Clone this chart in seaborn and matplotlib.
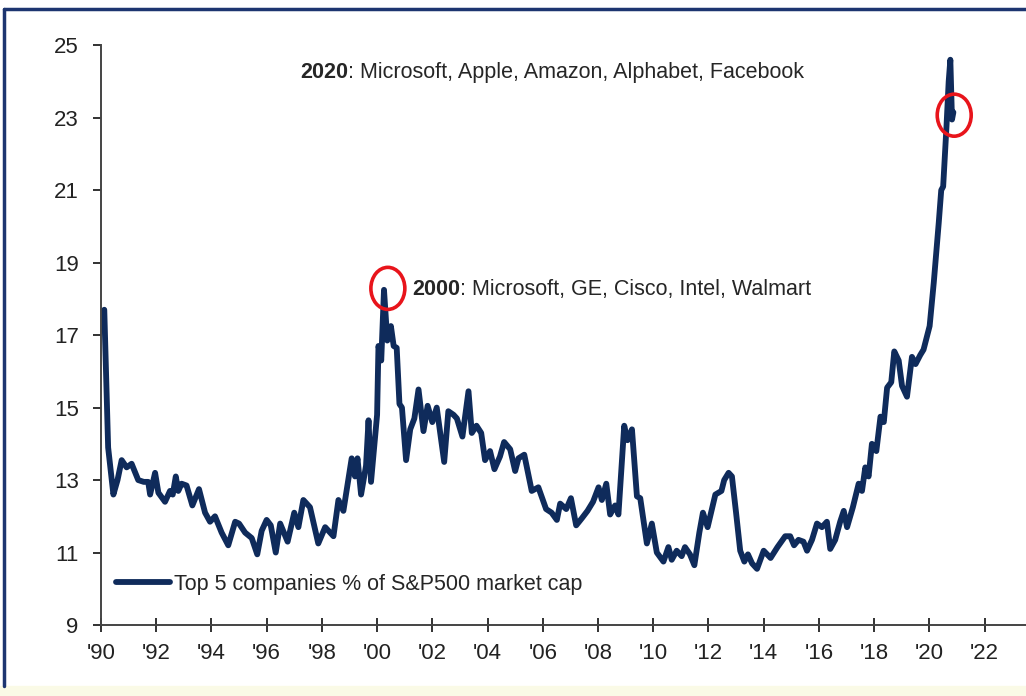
import matplotlib
matplotlib.use("Agg")
import matplotlib.pyplot as plt
import matplotlib.lines as mlines
import matplotlib.patches as mpatches
import seaborn as sns

# Top 5 companies share of S&P500 market cap
years = [
    1990.12, 1990.26, 1990.45, 1990.6, 1990.75, 1990.93, 1991.11, 1991.35, 1991.55, 1991.71,
    1991.78, 1991.96, 1992.08, 1992.32, 1992.5, 1992.6, 1992.71, 1992.8, 1992.92, 1993.1,
    1993.31, 1993.55, 1993.77, 1993.95, 1994.13, 1994.37, 1994.61, 1994.86, 1995.0, 1995.22,
    1995.46, 1995.66, 1995.82, 1996.0, 1996.15, 1996.33, 1996.49, 1996.76, 1997.0, 1997.15,
    1997.33, 1997.57, 1997.87, 1998.12, 1998.42, 1998.6, 1998.78, 1999.08, 1999.2, 1999.29,
    1999.42, 1999.6, 1999.69, 1999.78, 2000.0, 2000.05, 2000.15, 2000.25, 2000.37, 2000.5,
    2000.6, 2000.71, 2000.81, 2000.9, 2001.05, 2001.2, 2001.35, 2001.5, 2001.68, 2001.83,
    2002.0, 2002.16, 2002.43, 2002.58, 2002.77, 2002.89, 2003.09, 2003.31, 2003.43, 2003.6,
    2003.77, 2003.91, 2004.09, 2004.25, 2004.45, 2004.6, 2004.82, 2005.0, 2005.12, 2005.33,
    2005.6, 2005.84, 2006.12, 2006.32, 2006.51, 2006.63, 2006.85, 2007.02, 2007.21, 2007.42,
    2007.62, 2007.82, 2008.02, 2008.14, 2008.3, 2008.44, 2008.62, 2008.74, 2008.95, 2009.07,
    2009.23, 2009.41, 2009.53, 2009.77, 2009.95, 2010.13, 2010.37, 2010.55, 2010.67, 2010.85,
    2011.03, 2011.15, 2011.33, 2011.49, 2011.67, 2011.8, 2011.97, 2012.25, 2012.47, 2012.57,
    2012.73, 2012.85, 2013.0, 2013.15, 2013.3, 2013.43, 2013.58, 2013.76, 2014.0, 2014.25,
    2014.5, 2014.78, 2014.96, 2015.1, 2015.26, 2015.44, 2015.57, 2015.75, 2015.93, 2016.11,
    2016.29, 2016.41, 2016.59, 2016.77, 2016.9, 2017.02, 2017.23, 2017.44, 2017.56, 2017.68,
    2017.8, 2017.92, 2018.08, 2018.23, 2018.35, 2018.47, 2018.62, 2018.73, 2018.89, 2019.01,
    2019.19, 2019.37, 2019.5, 2019.67, 2019.79, 2020.01, 2020.16, 2020.34, 2020.43, 2020.5,
    2020.62, 2020.7, 2020.76, 2020.82, 2020.87,
]
top5_share = [
    17.7, 13.9, 12.6, 13.0, 13.55, 13.35, 13.45, 13.0, 12.95, 12.95,
    12.6, 13.2, 12.65, 12.4, 12.7, 12.6, 13.1, 12.7, 12.9, 12.85,
    12.3, 12.75, 12.1, 11.85, 12.0, 11.55, 11.2, 11.85, 11.8, 11.55,
    11.4, 10.95, 11.6, 11.9, 11.75, 11.0, 11.8, 11.3, 12.1, 11.7,
    12.45, 12.25, 11.25, 11.7, 11.45, 12.45, 12.15, 13.6, 13.1, 13.6,
    12.6, 13.4, 14.65, 12.95, 14.8, 16.7, 16.3, 18.25, 16.85, 17.25,
    16.7, 16.65, 15.1, 15.0, 13.55, 14.4, 14.7, 15.5, 14.35, 15.05,
    14.6, 15.0, 13.5, 14.9, 14.8, 14.7, 14.2, 15.45, 14.3, 14.5,
    14.3, 13.55, 13.8, 13.3, 13.65, 14.05, 13.85, 13.25, 13.6, 13.7,
    12.7, 12.8, 12.2, 12.1, 11.9, 12.35, 12.2, 12.5, 11.75, 11.95,
    12.15, 12.4, 12.8, 12.45, 12.9, 12.05, 12.3, 12.05, 14.5, 14.1,
    14.4, 12.55, 12.5, 11.25, 11.8, 11.0, 10.75, 11.15, 10.8, 11.05,
    10.9, 11.15, 10.95, 10.65, 11.55, 12.1, 11.7, 12.6, 12.7, 13.0,
    13.2, 13.1, 12.1, 11.05, 10.75, 10.95, 10.7, 10.55, 11.05, 10.85,
    11.15, 11.45, 11.45, 11.2, 11.35, 11.3, 11.05, 11.35, 11.8, 11.7,
    11.85, 11.1, 11.35, 11.85, 12.15, 11.7, 12.25, 12.9, 12.7, 13.35,
    13.1, 14.0, 13.8, 14.75, 14.6, 15.55, 15.7, 16.55, 16.3, 15.6,
    15.3, 16.4, 16.2, 16.45, 16.6, 17.25, 18.45, 20.1, 21.0, 21.1,
    22.75, 24.0, 24.6, 22.95, 23.15,
]

x_ticks = list(range(1990, 2023, 2))
x_labels = ["'" + str(y)[2:] for y in x_ticks]
y_ticks = list(range(9, 26, 2))

# highlighted peaks
peak_2000 = (2000.39, 18.29)
peak_2020 = (2020.9, 23.07)
note_2000 = ("2000", ": Microsoft, GE, Cisco, Intel, Walmart")
note_2020 = ("2020", ": Microsoft, Apple, Amazon, Alphabet, Facebook")

navy = "#0f2b5b"
red = "#e8141b"

sns.set_style("ticks")
plt.rcParams["font.family"] = ["Liberation Sans", "DejaVu Sans"]

fig = plt.figure(figsize=(10.26, 6.96), dpi=100)
ax = fig.add_axes([0.0984, 0.102, 0.9016, 0.833])

sns.lineplot(x=years, y=top5_share, ax=ax, color=navy, linewidth=4.2,
             label="Top 5 companies % of S&P500 market cap")

ax.set_xlim(1990, 2023.5)
ax.set_ylim(9, 25)
ax.set_xticks(x_ticks)
ax.set_xticklabels(x_labels)
ax.set_yticks(y_ticks)
ax.tick_params(axis="both", labelsize=16, colors="#222222", width=1.3)
ax.tick_params(axis="x", direction="inout", length=10, pad=8)
ax.tick_params(axis="y", direction="out", length=6, pad=10)
for side in ["top", "right"]:
    ax.spines[side].set_visible(False)
for side in ["left", "bottom"]:
    ax.spines[side].set_color("#444444")
    ax.spines[side].set_linewidth(1.4)
ax.set_xlabel("")
ax.set_ylabel("")

# red circles
for (cx, cy) in [peak_2000, peak_2020]:
    ax.add_patch(mpatches.Ellipse((cx, cy), 1.23, 1.16, fill=False,
                                  edgecolor=red, linewidth=2.6, zorder=5))

# annotations with bold year
t1 = ax.text(1997.21, 24.26, note_2020[0], fontsize=15.5, fontweight="bold", va="center")
ax.annotate(note_2020[1], xy=(1, 0), xycoords=t1, va="bottom", fontsize=15.5)
t2 = ax.text(2001.27, 18.27, note_2000[0], fontsize=15.5, fontweight="bold", va="center")
ax.annotate(note_2000[1], xy=(1, 0), xycoords=t2, va="bottom", fontsize=15.5)

leg = ax.legend(loc="center left", bbox_to_anchor=(0.0, 0.07), frameon=False,
                fontsize=15.5, handlelength=2.5, handletextpad=0.2, borderaxespad=0.3)
for h in leg.get_lines():
    h.set_linewidth(4.2)

# outer frame (top and left edge) and pale strip at the bottom
fig.add_artist(mlines.Line2D([0.004, 1.0], [0.987, 0.987], color="#1d3570", linewidth=2.5))
fig.add_artist(mlines.Line2D([0.004, 0.004], [0.014, 0.987], color="#1d3570", linewidth=2.5))
fig.add_artist(mpatches.Rectangle((0, 0), 1, 0.014, color="#fafae6", zorder=0))

fig.savefig("out.png", dpi=100)
